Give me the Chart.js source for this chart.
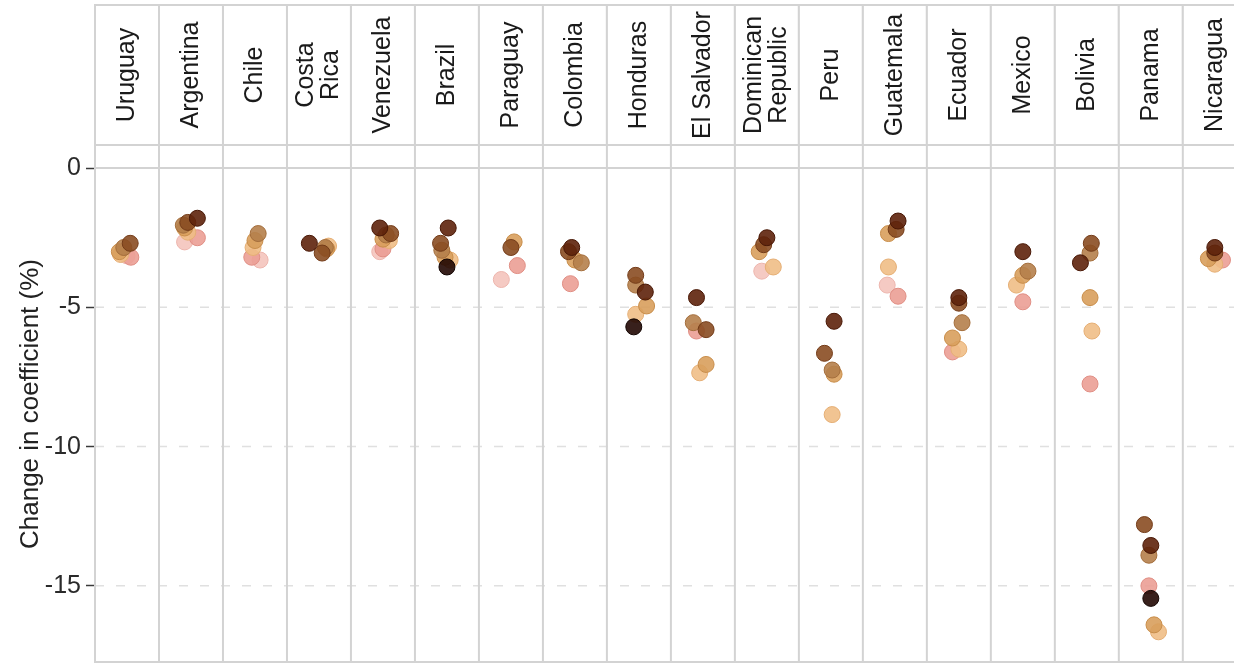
<!DOCTYPE html>
<html>
<head>
<meta charset="utf-8">
<script src="https://cdn.jsdelivr.net/npm/chart.js@4.4.0/dist/chart.umd.min.js"></script>
<style>
  html, body { margin: 0; padding: 0; background: #fff; overflow: hidden; }
  #wrap { width: 1234px; height: 665px; }
</style>
</head>
<body>
<div id="wrap"><canvas id="chart" width="1234" height="665"></canvas></div>
<script>
const FONT = "'Liberation Sans', Arial, Helvetica, sans-serif";

// facet strips, left to right (multi-line labels split into lines)
const countries = [
  ["Uruguay"], ["Argentina"], ["Chile"], ["Costa", "Rica"], ["Venezuela"], ["Brazil"],
  ["Paraguay"], ["Colombia"], ["Honduras"], ["El Salvador"], ["Dominican", "Republic"],
  ["Peru"], ["Guatemala"], ["Ecuador"], ["Mexico"], ["Bolivia"], ["Panama"], ["Nicaragua"]
];

const yTicks = [-15, -10, -5, 0];

// change in coefficient (%) per skin tone, one value per country (null = no point)
//                Uru    Arg    Chi    CR     Ven    Bra    Par    Col    Hon    ElS    DR     Per    Gua    Ecu    Mex    Bol    Pan     Nic
const tone1 = [ -3.15, -2.65, -3.30, null,  -3.00, null,  -4.00, null,  null,  null,  -3.70, null,  -4.20, null,  null,  null,  null,   null ];
const tone2 = [ -3.20, -2.50, -3.20, null,  -2.90, null,  -3.50, -4.15, null,  -5.85, null,  null,  -4.60, -6.60, -4.80, -7.75, -15.00, -3.30 ];
const tone3 = [ -3.10, -2.30, -2.85, -2.80, -2.60, -3.30, null,  null,  -5.25, -7.35, -3.55, -8.85, -3.55, -6.50, -4.20, -5.85, -16.65, -3.45 ];
const tone4 = [ -3.00, -2.15, -2.60, -2.90, -2.55, -3.20, -2.65, -3.30, -4.95, -7.05, -3.00, -7.40, -2.35, -6.10, -3.85, -4.65, -16.40, -3.25 ];
const tone5 = [ -2.85, -2.05, -2.35, -2.85, -2.40, -2.95, null,  -3.40, -4.20, -5.55, null,  -7.25, null,  -5.55, -3.70, -3.05, -13.90, null  ];
const tone6 = [ -2.70, -1.95, null,  -3.05, -2.35, -2.70, -2.85, -3.00, -3.85, -5.80, -2.75, -6.65, -2.20, -4.85, null,  -2.70, -12.80, -3.05 ];
const tone7 = [ null,  -1.80, null,  -2.70, -2.15, -2.15, null,  -2.85, -4.45, -4.65, -2.50, -5.50, -1.90, -4.65, -3.00, -3.40, -13.55, -2.85 ];
const tone8 = [ null,  null,  null,  null,  null,  -3.55, null,  null,  -5.70, null,  null,  null,  null,  null,  null,  null,  -15.45, null  ];

// horizontal jitter inside each facet (fraction of the facet width)
const jitter1 = [ 0.00, -0.10, 0.08, 0, -0.05, 0, -0.15, 0, 0, 0, -0.08, 0, -0.12, 0, 0, 0, 0, 0 ];
const jitter2 = [ 0.06, 0.10, -0.05, 0, 0.00, 0, 0.10, -0.07, 0, -0.10, 0, 0, 0.05, -0.10, 0.00, 0.05, -0.03, 0.12 ];
const jitter3 = [ -0.10, -0.05, -0.03, 0.15, 0.10, 0.05, 0, 0, -0.05, -0.05, 0.10, 0.02, -0.10, 0.00, -0.10, 0.08, 0.12, 0.00 ];
const jitter4 = [ -0.12, -0.10, 0.00, 0.12, 0.00, -0.03, 0.05, 0.00, 0.12, 0.05, -0.12, 0.05, -0.10, -0.10, 0.00, 0.05, 0.05, -0.10 ];
const jitter5 = [ -0.05, -0.12, 0.05, 0.10, 0.05, -0.08, 0, 0.10, -0.05, -0.15, 0, 0.02, 0, 0.05, 0.08, 0.05, -0.03, 0 ];
const jitter6 = [ 0.05, -0.05, 0, 0.05, 0.12, -0.10, 0.00, -0.10, -0.05, 0.05, -0.05, -0.10, 0.02, 0.00, 0, 0.07, -0.10, 0.00 ];
const jitter7 = [ 0, 0.10, 0, -0.15, -0.05, 0.02, 0, -0.05, 0.10, -0.10, 0.00, 0.05, 0.05, 0.00, 0.00, -0.10, 0.00, 0.00 ];
const jitter8 = [ 0, 0, 0, 0, 0, 0.00, 0, 0, -0.08, 0, 0, 0, 0, 0, 0, 0, 0.00, 0 ];

const toneValues = [tone1, tone2, tone3, tone4, tone5, tone6, tone7, tone8];
const toneJitter = [jitter1, jitter2, jitter3, jitter4, jitter5, jitter6, jitter7, jitter8];
const toneColors = ["#f4c4bd", "#eb9f95", "#f0be86", "#d89f5c", "#b57f4b", "#8a4c22", "#5e220b", "#220803"];
const toneBorders = ["#edb5ad", "#e08e84", "#e5ae74", "#c88d4a", "#a36d3b", "#733b18", "#481705", "#120401"];

const datasets = toneValues.map((vals, t) => ({
  label: "tone " + (t + 1),
  data: vals
    .map((v, i) => (v === null ? null : { x: i + 0.5 + toneJitter[t][i], y: v }))
    .filter((p) => p !== null),
  backgroundColor: toneColors[t] + "e6",
  borderColor: toneBorders[t],
  borderWidth: 1,
  pointRadius: 8,
  order: toneValues.length - t, // darker tones on top
}));

const line = (ctx, x1, y1, x2, y2) => {
  ctx.beginPath();
  ctx.moveTo(x1, y1);
  ctx.lineTo(x2, y2);
  ctx.stroke();
};

// facet panels, grid lines and strip labels
const facetPlugin = {
  id: "facets",
  beforeDatasetsDraw(chart) {
    const { ctx, chartArea: a, scales: { x, y } } = chart;
    ctx.save();
    ctx.strokeStyle = "#e0e0e0";
    ctx.lineWidth = 1.5;
    ctx.setLineDash([9, 12]);
    yTicks.filter((v) => v !== 0).forEach((v) => {
      const py = y.getPixelForValue(v);
      line(ctx, a.left, py, a.right, py);
    });
    ctx.setLineDash([]);
    ctx.strokeStyle = "#d3d3d3";
    ctx.lineWidth = 2;
    const y0 = y.getPixelForValue(0);
    line(ctx, a.left, y0, a.right, y0);
    for (let i = 0; i <= countries.length; i++) {
      const px = x.getPixelForValue(i);
      line(ctx, px, a.top, px, a.bottom);
    }
    line(ctx, a.left, a.bottom - 1, a.right, a.bottom - 1);
    ctx.restore();
  },
  afterDraw(chart) {
    const { ctx, chartArea: a, scales: { x } } = chart;
    const stripTop = 5;
    ctx.save();
    ctx.font = "25px " + FONT;
    ctx.textAlign = "center";
    ctx.textBaseline = "middle";
    countries.forEach((lines, i) => {
      const l = x.getPixelForValue(i);
      const r = x.getPixelForValue(i + 1);
      ctx.fillStyle = "#fff";
      ctx.fillRect(l, stripTop, r - l, a.top - stripTop);
      ctx.strokeStyle = "#d3d3d3";
      ctx.lineWidth = 2;
      ctx.strokeRect(l, stripTop, r - l, a.top - stripTop);
      ctx.fillStyle = "#1a1a1a";
      ctx.save();
      ctx.translate((l + r) / 2, (stripTop + a.top) / 2);
      ctx.rotate(-Math.PI / 2);
      const lh = 25;
      lines.forEach((txt, k) => {
        ctx.fillText(txt, 0, (k - (lines.length - 1) / 2) * lh);
      });
      ctx.restore();
    });
    ctx.restore();
  },
};

new Chart(document.getElementById("chart"), {
  type: "scatter",
  data: { datasets },
  options: {
    responsive: false,
    animation: false,
    layout: { autoPadding: false, padding: { top: 145, bottom: 2, left: 0, right: 0 } },
    plugins: { legend: { display: false }, tooltip: { enabled: false } },
    scales: {
      x: { type: "linear", min: 0, max: 17.8, display: false },
      y: {
        min: -17.77,
        max: 0.83,
        afterBuildTicks: (s) => { s.ticks = yTicks.map((v) => ({ value: v })); },
        afterFit: (s) => { s.width = 95; s.paddingTop = 0; s.paddingBottom = 0; },
        grid: { drawOnChartArea: false, drawTicks: true, tickLength: 9, tickColor: "#3a3a3a", tickWidth: 1.5 },
        border: { display: false },
        ticks: { font: { family: FONT, size: 25 }, color: "#2a2a2a", padding: 5 },
        title: {
          display: true,
          text: "Change in coefficient (%)",
          font: { family: FONT, size: 26 },
          color: "#222",
          padding: { top: 15, bottom: 0 },
        },
      },
    },
  },
  plugins: [facetPlugin],
});
</script>
</body>
</html>
